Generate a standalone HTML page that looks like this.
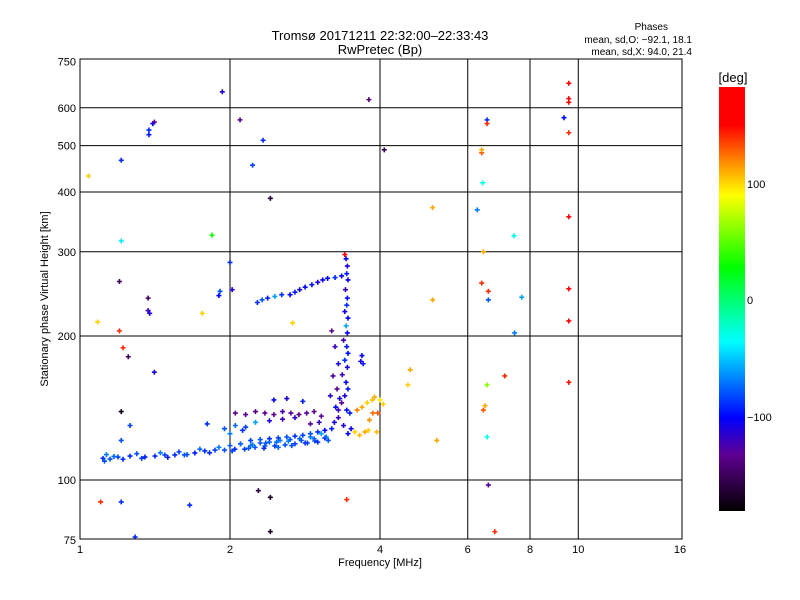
<!DOCTYPE html>
<html><head><meta charset="utf-8"><style>
body{margin:0;background:#fff;}
svg{display:block;font-family:"Liberation Sans",sans-serif;}
</style></head><body>
<svg id="chart" width="800" height="600" viewBox="0 0 800 600" xmlns="http://www.w3.org/2000/svg">
<defs>
<linearGradient id="cbar" x1="0" y1="1" x2="0" y2="0">
<stop offset="0" stop-color="#000000"/>
<stop offset="0.132" stop-color="#600090"/>
<stop offset="0.22" stop-color="#0000ff"/>
<stop offset="0.40" stop-color="#00ffff"/>
<stop offset="0.575" stop-color="#00ff00"/>
<stop offset="0.745" stop-color="#ffff00"/>
<stop offset="0.82" stop-color="#ff9000"/>
<stop offset="0.91" stop-color="#ff0000"/>
<stop offset="1" stop-color="#ff0000"/>
</linearGradient>
</defs>
<g font-size="13" text-anchor="middle">
<text x="380" y="40">Tromsø 20171211 22:32:00–22:33:43</text>
<text x="380" y="54">RwPretec (Bp)</text>
</g>
<g font-size="10" text-anchor="end">
<text x="668" y="30">Phases</text>
<text x="692" y="43">mean, sd,O: −92.1, 18.1</text>
<text x="692" y="55">mean, sd,X:  94.0, 21.4</text>
</g>
<g id="grid"></g>
<g id="points"></g>
<rect x="80" y="59" width="602" height="480" fill="none" stroke="#000" stroke-width="1"/>
<g id="ticks" font-size="11"></g>
<text x="380" y="566" font-size="11" text-anchor="middle">Frequency [MHz]</text>
<text transform="translate(48,299) rotate(-90)" font-size="11" text-anchor="middle">Stationary phase Virtual Height [km]</text>
<rect x="719" y="87" width="26" height="424" fill="url(#cbar)"/>
<text x="733" y="82" font-size="13" text-anchor="middle">[deg]</text>
<g font-size="11">
<text x="747" y="188">100</text>
<text x="747" y="304">0</text>
<text x="747" y="421">−100</text>
</g>
</svg>
<script>
const xTicks=[1,2,4,6,8,10,16];
const yTicks=[75,100,200,300,400,500,600,750];
const freqs=[1.04,1.21,1.21,1.2,1.37,1.37,1.38,1.40,1.375,1.375,1.41,1.93,2.095,2.33,2.22,1.84,2,1.91,1.9,2.02,2.41,3.8,4.08,5.1,6.27,6.4,6.4,6.43,6.56,6.56,7.43,9.57,9.57,9.57,9.36,9.57,9.57,9.57,9.57,9.57,6.4,6.6,6.6,6.45,7.45,7.7,6.56,7.12,6.45,6.5,6.56,6.6,5.2,4.6,4.55,5.1,1.1,1.21,1.66,2.28,2.41,3.43,2.41,1.29,6.8,1.21,1.21,1.26,1.41,1.22,1.25,1.085,1.2,1.76,2.67,3.4,
1.112,1.149,1.192,1.26,1.35,1.414,1.48,1.55,1.62,1.70,1.78,1.866,1.95,2.045,2.14,2.245,2.35,2.46,2.58,2.70,2.83,2.96,3.10,
1.13,1.17,1.3,1.45,1.58,1.74,1.9,2.0,2.1,2.2,2.3,2.4,2.52,2.64,2.76,2.9,3.05,
2.27,2.32,2.38,2.46,2.54,2.64,2.70,2.76,2.83,2.92,3.0,3.07,3.14,3.25,3.35,
3.42,3.44,3.43,3.45,3.41,3.44,3.43,3.40,3.45,3.42,3.44,3.38,3.43,3.45,3.40,3.44,3.36,3.42,3.45,3.40,3.35,3.43,3.30,3.38,3.45,
3.2,3.25,3.3,3.22,3.28,3.18,3.3,3.24,3.68,3.66,3.70,
2.05,2.15,2.25,2.35,2.45,2.55,2.65,2.75,2.85,2.95,3.05,
2.2,2.3,2.4,2.5,2.6,2.7,2.8,2.9,3.0,3.1,3.2,
1.95,2.05,2.12,2.25,2.45,2.6,2.8,1.8,2.0,2.15,
3.6,3.68,3.77,3.86,3.9,4.0,4.06,3.96,3.87,3.81,3.56,3.64,3.73,3.79,3.94,
1.12,1.22,1.33,1.5,1.64,1.82,2.02,2.18,2.34,2.5,2.66,2.86,3.0,3.15,
2.1,2.22,2.36,2.48,2.62,2.78,2.95,3.12,2.4,2.55,2.7,2.9,3.02,3.26,3.32,3.48,3.5];
const heights=[432,466,316,260,240,226,223,556,539,527,560,648,566,513,455,325,285,248,243,250,388,624,490,371,367,483,490,418,566,556,324,675,627,616,572,532,355,251,215,160,258,248,238,300,203,241,158,165,140,143,123,97.6,121,170,158,238,90,90,88.6,95,92,91,78,76,78,139,121,130,168,189,181,214,205,223,213,296,
111,110.6,111.7,112.2,111.7,112.2,112.8,112.8,112.8,113.9,115,115.5,115.5,116,116,117,117.8,117.8,118.4,119,119.5,120.7,122.4,
113,112,113.5,114,114.5,116,117,118,119,118,119.5,120,121,121.5,122,123,125,
235,238,240,242,244,244,247,250,253,256,259,262,264,265,267,
290,280,270,262,250,240,232,225,218,210,203,196,190,184,178,172,166,160,155,150,145,140,135,130,125,
205,190,175,165,155,150,140,132,182,177,175,
138,137,139,138,137,139,138,137,138,139,136,
121,121.5,122,122.5,123,123.5,124,125,126,127,128,
128,130,127,132,147,148,146,131,125,129,
140,142,145,147,149,147,144,138,138,133.5,126,124,126,127,126,
109.5,110.5,111,111.5,113,114,115,116.5,116.5,117,118,119.5,120,121,
119,118.5,119.5,120,120.5,121,122,123,133,134,135,131,132,142,148,138,128];
const phases=[100,-90,-40,-150,-150,-120,-110,-100,-90,-95,-130,-110,-130,-90,-85,30,-90,-80,-100,-110,-160,-140,-150,110,-70,130,110,-30,-90,140,-30,150,170,150,-100,140,170,150,150,145,140,140,-80,110,-70,-60,60,140,130,110,-30,-130,110,110,100,110,140,-90,-90,-160,-170,140,-170,-90,140,-175,-80,-85,-110,140,-150,100,140,100,100,150,
-90,-80,-85,-90,-95,-90,-85,-90,-80,-95,-90,-85,-80,-90,-85,-80,-75,-85,-80,-85,-90,-85,-95,
-70,-75,-80,-70,-85,-75,-70,-80,-75,-70,-80,-75,-70,-80,-75,-70,-60,
-90,-80,-95,-60,-90,-100,-95,-110,-100,-95,-110,-105,-100,-90,-100,
-100,-110,-95,-105,-120,-100,-90,-110,-100,-60,-105,-120,-95,-100,-90,-110,-120,-100,-95,-110,-130,-100,-120,-110,-100,
-130,-120,-110,-125,-130,-115,-120,-110,-100,-110,-95,
-135,-130,-140,-130,-135,-125,-130,-140,-130,-135,-130,
-85,-80,-90,-85,-80,-90,-85,-80,-90,-100,-95,
-80,-75,-90,-60,-100,-110,-95,-90,-70,-85,
120,110,100,105,110,95,100,130,125,115,100,105,110,100,105,
-80,-90,-85,-95,-80,-90,-85,-80,-90,-75,-80,-85,-90,-80,
-75,-70,-80,-75,-70,-80,-75,-70,-110,-120,-115,-130,-120,-100,-110,-95,-105];

const NS="http://www.w3.org/2000/svg";
function xPos(f){return 80+150*Math.log2(f);}
function yPos(h){return 480-144*Math.log2(h/100);}
const cStops=[[-181,[0,0,0]],[-133,[96,0,144]],[-101,[0,0,255]],[-36,[0,255,255]],[27,[0,255,0]],[88,[255,255,0]],[116,[255,144,0]],[150,[255,0,0]],[181,[255,0,0]]];
function color(v){
  v=Math.max(-181,Math.min(181,v));
  for(let i=0;i<cStops.length-1;i++){
    const a=cStops[i],b=cStops[i+1];
    if(v<=b[0]){const t=(v-a[0])/(b[0]-a[0]);
      const c=a[1].map((x,k)=>Math.round(x+(b[1][k]-x)*t));
      return 'rgb('+c.join(',')+')';}
  }
  return 'red';
}
const grid=document.getElementById('grid');
xTicks.slice(1,-1).forEach(f=>{
  const l=document.createElementNS(NS,'line');
  
  
  const x=xPos(f);
  l.setAttribute('x1',x);l.setAttribute('x2',x);l.setAttribute('y1',59);l.setAttribute('y2',539);
  l.setAttribute('stroke','#000');l.setAttribute('stroke-width','1');
  grid.appendChild(l);
});
yTicks.slice(1,-1).forEach(h=>{
  const l=document.createElementNS(NS,'line');
  
  
  const y=yPos(h);
  l.setAttribute('x1',80);l.setAttribute('x2',682);l.setAttribute('y1',y);l.setAttribute('y2',y);
  l.setAttribute('stroke','#000');l.setAttribute('stroke-width','1');
  grid.appendChild(l);
});
const ticks=document.getElementById('ticks');
xTicks.forEach(f=>{
  const t=document.createElementNS(NS,'text');
  
  
  t.setAttribute('x',xPos(f));t.setAttribute('y',553);t.setAttribute('text-anchor','middle');
  t.textContent=f;ticks.appendChild(t);
});
yTicks.forEach(h=>{
  const t=document.createElementNS(NS,'text');
  
  
  t.setAttribute('x',76);t.setAttribute('y',yPos(h)+4);t.setAttribute('text-anchor','end');
  t.textContent=h;ticks.appendChild(t);
});
const pts=document.getElementById('points');
for(let i=0;i<freqs.length;i++){
  const x=xPos(freqs[i]),y=yPos(heights[i]);
  const p=document.createElementNS(NS,'path');
  
  
  p.setAttribute('d','M'+(x-2.5)+' '+y+'h5M'+x+' '+(y-2.5)+'v5');
  p.setAttribute('stroke',color(phases[i]));
  p.setAttribute('stroke-width','1.6');
  pts.appendChild(p);
}
</script>
</body></html>
